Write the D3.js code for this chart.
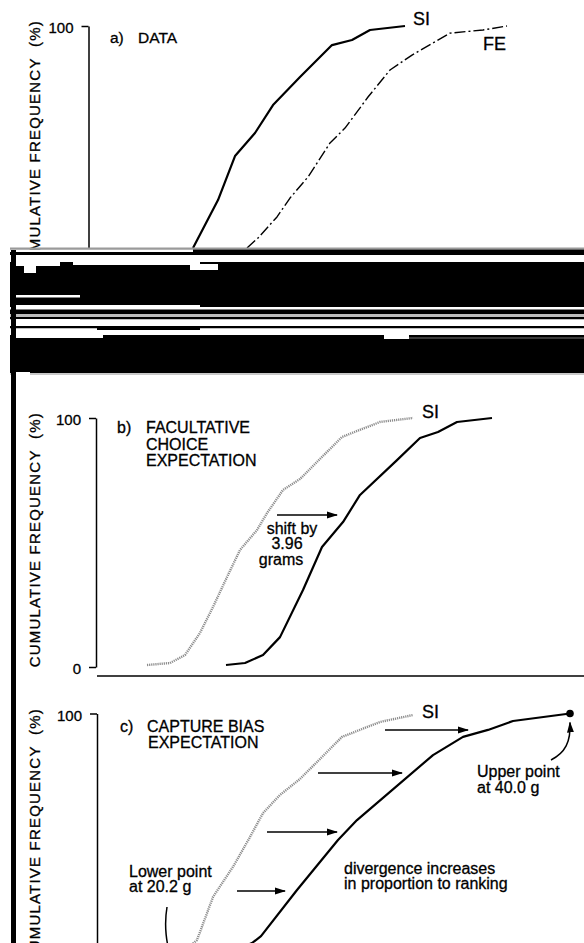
<!DOCTYPE html>
<html lang="en">
<head>
<meta charset="utf-8">
<title>Cumulative frequency: data, facultative choice, capture bias</title>
<script src="https://cdn.jsdelivr.net/npm/d3@7"></script>
<style>
  body { margin: 0; background: #fff; }
  svg { display: block; }
  svg text { stroke: #000; stroke-width: 0.3px; }
</style>
</head>
<body>
<svg width="584" height="943"></svg>
<script>
// a) observed data, body mass (g) vs cumulative frequency (%)
const aSIGrams = [21.15, 22.4, 23.25, 24.25, 25.15, 26.5, 28.1, 29.1, 30.0, 31.75];
const aSIFreq  = [0, 21.6, 41.4, 51.8, 64.4, 77.0, 91.4, 93.7, 98.2, 100];
const aFEGrams = [23.85, 24.4, 25.35, 26.0, 26.9, 28.0, 28.75, 29.9, 31.0, 32.1, 34.0, 35.65, 36.85];
const aFEFreq  = [0, 4.5, 14, 22.5, 32, 47.3, 54, 68, 80.2, 86.9, 96.8, 98.2, 100];

// b) facultative choice expectation
const bSIGrams    = [18.85, 20.0, 20.75, 21.5, 22.15, 22.85, 23.5, 24.35, 24.85, 25.65, 26.5, 28.6, 30.5, 32.15];
const bSIFreq     = [0.8, 1.6, 4.8, 13.7, 24.1, 36.1, 47, 55, 61.8, 71.1, 75.5, 92.4, 98.4, 100];
const bShiftGrams = [22.8, 23.75, 24.65, 25.5, 26.65, 27.6, 28.65, 29.5, 31.35, 32.5, 33.4, 34.35, 36.1];
const bShiftFreq  = [0.8, 1.6, 4.8, 12, 30.9, 48.2, 58.2, 69.1, 83.1, 92, 94.4, 98.4, 100];
const bArrow = { freq: 61.0, from: 25.35, to: 28.35 };

// c) capture bias expectation
const cSIGrams   = [18.85, 20.0, 20.75, 21.35, 22.15, 23.15, 24.0, 24.65, 25.5, 26.5, 28.6, 30.5, 32.15];
const cSIFreq    = [1.0, 1.8, 5.0, 9.0, 26.3, 38.4, 50.4, 60.0, 67.3, 73.7, 90.6, 96.6, 99.4];
const cBiasGrams = [20.2, 22.25, 24.1, 24.55, 26.35, 28.4, 29.35, 33.15, 34.65, 35.9, 37.15, 40.0];
const cBiasFreq  = [0, 1.8, 7.8, 10.6, 29.1, 49.2, 57.2, 83.3, 90.6, 93.4, 97.0, 100];
const cArrowFreq = [93.4, 76.1, 52.4, 28.7];
const cArrowFrom = [30.75, 27.4, 24.85, 23.35];
const cArrowTo   = [34.9, 31.6, 28.35, 25.75];
const lowerPoint = 20.2, upperPoint = 40.0;

const yTitle = "CUMULATIVE FREQUENCY  (%)";
const FONT = "'Liberation Sans', Arial, Helvetica, sans-serif";

const svg = d3.select("svg").attr("font-family", FONT);

const x = d3.scaleLinear().domain([16, 41]).range([90, 590]);
const yA = d3.scaleLinear().domain([0, 100]).range([248, 26]);
const yB = d3.scaleLinear().domain([0, 100]).range([667, 418]);
const yC = d3.scaleLinear().domain([0, 100]).range([962.5, 713.5]);

const zip = (gs, fs) => gs.map((g, i) => [g, fs[i]]);

svg.append("defs").append("marker")
  .attr("id", "head")
  .attr("markerUnits", "userSpaceOnUse")
  .attr("markerWidth", 11).attr("markerHeight", 8)
  .attr("refX", 10).attr("refY", 4)
  .attr("orient", "auto")
  .append("path").attr("d", "M0,0.5 L11,4 L0,7.5 Z").attr("fill", "#000");

function curve(y, pts, style) {
  const line = d3.line().x(d => x(d[0])).y(d => y(d[1]));
  const p = svg.append("path").datum(pts).attr("d", line)
    .attr("fill", "none").attr("stroke-linejoin", "round");
  if (style === "solid") p.attr("stroke", "#000").attr("stroke-width", 2.2);
  if (style === "dashdot") p.attr("stroke", "#000").attr("stroke-width", 1.4).attr("stroke-dasharray", "11 3 2 3");
  if (style === "dotted") p.attr("stroke", "#8c8c8c").attr("stroke-width", 2.4).attr("stroke-dasharray", "1.2 0.9");
}

function yAxis(y, xpos, ticks) {
  const g = svg.append("g").attr("transform", `translate(${xpos},0)`)
    .call(d3.axisLeft(y).tickValues(ticks).tickSize(7).tickPadding(8).tickSizeOuter(0));
  g.attr("font-family", FONT).attr("font-size", 15);
  g.select(".domain").attr("stroke-width", 1.5);
  g.selectAll(".tick line").attr("stroke-width", 1.5);
  g.selectAll(".tick text").attr("fill", "#000").attr("dy", "0.45em");
}

function text(tx, ty, str, size, anchor) {
  return svg.append("text").attr("x", tx).attr("y", ty)
    .attr("font-size", size).attr("text-anchor", anchor || "start")
    .attr("fill", "#000").text(str);
}

function title(top) {
  svg.append("text")
    .attr("transform", `translate(40,${top}) rotate(-90)`)
    .attr("text-anchor", "end").attr("font-size", 15)
    .attr("letter-spacing", 1.2).style("white-space", "pre")
    .text(yTitle);
}

function arrow(y, f, g0, g1) {
  svg.append("line")
    .attr("x1", x(g0)).attr("x2", x(g1))
    .attr("y1", y(f)).attr("y2", y(f))
    .attr("stroke", "#000").attr("stroke-width", 1.5)
    .attr("marker-end", "url(#head)");
}

// ---- panel a
yAxis(yA, 88.5, [100]);
title(20);
text(110, 43, "a)", 15.5);
text(138, 43, "DATA", 15.5);
curve(yA, zip(aSIGrams, aSIFreq), "solid");
curve(yA, zip(aFEGrams, aFEFreq), "dashdot");
text(413, 25, "SI", 18);
text(483, 50, "FE", 18);

// ---- panel b
yAxis(yB, 96, [0, 100]);
title(412);
svg.append("line").attr("x1", 97).attr("x2", 584)
  .attr("y1", yB(0) + 9).attr("y2", yB(0) + 9)
  .attr("stroke", "#000").attr("stroke-width", 1.5);
text(117, 433, "b)", 16);
text(146, 433, "FACULTATIVE", 16);
text(146, 450, "CHOICE", 16);
text(146, 466, "EXPECTATION", 16);
curve(yB, zip(bSIGrams, bSIFreq), "dotted");
curve(yB, zip(bShiftGrams, bShiftFreq), "solid");
text(422, 418, "SI", 18);
arrow(yB, bArrow.freq, bArrow.from, bArrow.to);
text(292, 534, "shift by", 16, "middle");
text(287, 549, "3.96", 16, "middle");
text(281, 565, "grams", 16, "middle");

// ---- panel c
yAxis(yC, 97, [100]);
title(708);
text(120, 732, "c)", 16);
text(147, 732, "CAPTURE BIAS", 16);
text(148, 748, "EXPECTATION", 16);
curve(yC, zip(cSIGrams, cSIFreq), "dotted");
curve(yC, zip(cBiasGrams, cBiasFreq), "solid");
text(422, 718, "SI", 18);
cArrowFreq.forEach((f, i) => arrow(yC, f, cArrowFrom[i], cArrowTo[i]));
svg.append("circle").attr("cx", x(upperPoint)).attr("cy", yC(100)).attr("r", 3.8).attr("fill", "#000");
text(477, 777, "Upper point", 16);
text(477, 793, "at 40.0 g", 16);
text(129, 877, "Lower point", 16);
text(129, 892, "at 20.2 g", 16);
text(344, 874, "divergence increases", 16);
text(344, 889, "in proportion to ranking", 16);
// curved pointers to the end points
svg.append("path")
  .attr("d", `M551,760 C565,753 571,742 ${x(upperPoint)},${yC(100) + 9}`)
  .attr("fill", "none").attr("stroke", "#000").attr("stroke-width", 1.5)
  .attr("marker-end", "url(#head)");
svg.append("path")
  .attr("d", `M167,907 C164,925 166,945 ${x(lowerPoint) - 2},${yC(0) - 4}`)
  .attr("fill", "none").attr("stroke", "#000").attr("stroke-width", 1.5);

// ---- scanner artefact: dark band between a) and b), black left edge
const band = svg.append("g");
const stripes = [
  [247.5, 249.5, "#9a9a9a"], [249.5, 255, "#000"], [255, 262, "#fff"], [262, 307, "#000"],
  [307, 309.5, "#fff"], [309.5, 314, "#000"], [314, 317, "#bdbdbd"], [317, 319.5, "#000"],
  [319.5, 326, "#fff"], [326, 328.5, "#000"], [328.5, 335, "#fff"], [335, 373, "#000"],
  [373, 375, "#c8c8c8"]
];
band.selectAll("rect.s").data(stripes).join("rect").attr("class", "s")
  .attr("x", 10).attr("width", 574)
  .attr("y", d => d[0]).attr("height", d => d[1] - d[0]).attr("fill", d => d[2]);
const patches = [
  [10, 249.5, 193, 252, "#fff"], [73, 260, 200, 265, "#fff"], [190, 264, 218, 270, "#fff"],
  [12, 295, 80, 297.5, "#fff"], [12, 305, 200, 308, "#fff"], [12, 319, 80, 326, "#fff"],
  [97, 328, 200, 330, "#000"], [12, 335, 103, 338, "#fff"], [384, 335, 409, 339, "#fff"],
  [409, 337.5, 584, 338.5, "#777"], [15, 372, 30, 378, "#fff"],
  [14, 262, 60, 266, "#fff"], [24, 266, 36, 273, "#fff"]
];
band.selectAll("rect.p").data(patches).join("rect").attr("class", "p")
  .attr("x", d => d[0]).attr("y", d => d[1])
  .attr("width", d => d[2] - d[0]).attr("height", d => d[3] - d[1]).attr("fill", d => d[4]);
band.append("rect").attr("x", 11).attr("y", 250).attr("width", 5).attr("height", 693).attr("fill", "#000");
</script>
</body>
</html>
